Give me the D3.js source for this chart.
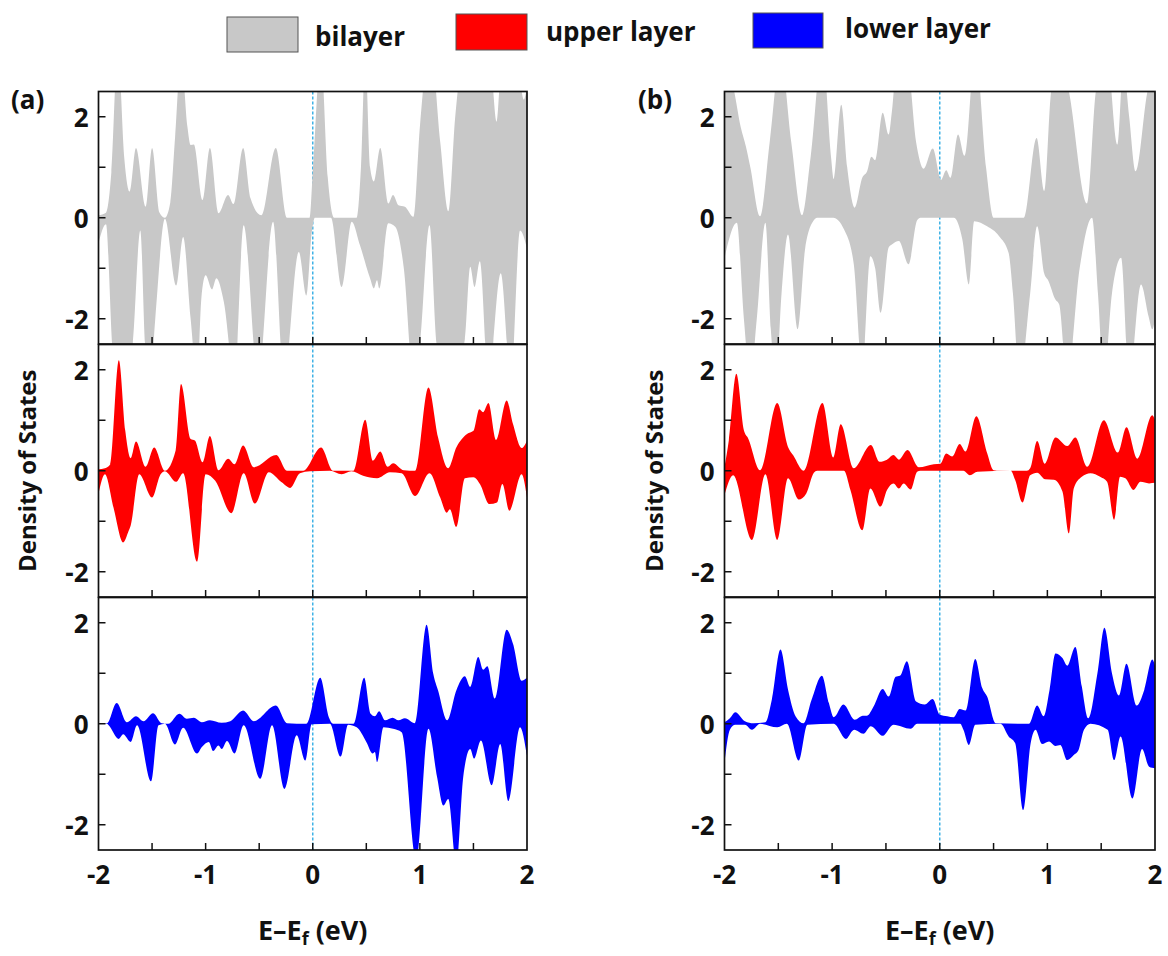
<!DOCTYPE html>
<html>
<head>
<meta charset="utf-8">
<script src="https://cdn.jsdelivr.net/npm/d3@7"></script>
<style>
  html, body { margin: 0; padding: 0; background: #fff; }
  svg { display: block; font-family: "Open Sans", Lato, sans-serif; font-weight: bold; }
</style>
</head>
<body>
<svg id="chart" width="1168" height="956"></svg>
<script>
// Spin-resolved DOS (spin up >= 0, spin down <= 0), energy in eV relative to E_f
const energyTicks = [-2, -1, 0, 1, 2];
const dosTicks = [-2, 0, 2];
const seriesNames = ["bilayer", "upper layer", "lower layer"];
const seriesColors = ["#c8c8c8", "#ff0000", "#0000ff"];
const panelLabels = ["(a)", "(b)"];

// ---- column (a) ----
const bilayerUpA = [[-2.0,0.05],[-1.93,0.1],[-1.88,0.9],[-1.82,3.4],[-1.76,1.2],[-1.71,0.52],[-1.65,1.38],[-1.56,0.22],[-1.50,1.38],[-1.43,0.1],[-1.38,0.0],[-1.33,0.3],[-1.285,1.6],[-1.23,3.2],[-1.17,1.8],[-1.14,1.44],[-1.11,1.45],[-1.03,0.35],[-0.96,1.38],[-0.88,0.09],[-0.79,0.45],[-0.74,0.27],[-0.65,1.38],[-0.58,0.38],[-0.48,0.05],[-0.345,1.38],[-0.24,0.0],[-0.03,0.0],[0.0,0.9],[0.075,3.2],[0.14,0.8],[0.2,0.0],[0.41,0.0],[0.45,1.0],[0.49,3.2],[0.535,1.0],[0.57,0.72],[0.63,1.38],[0.705,0.28],[0.75,0.45],[0.80,0.25],[0.86,0.22],[0.94,0.02],[1.0,1.8],[1.095,3.5],[1.19,1.5],[1.265,0.13],[1.33,2.0],[1.39,3.0],[1.55,3.2],[1.66,3.0],[1.716,1.9],[1.76,3.0],[1.9,3.2],[1.97,2.34],[2.0,2.6]];
const bilayerDnA = [[-2.0,-0.5],[-1.93,-0.13],[-1.87,-2.6],[-1.8,-3.5],[-1.72,-3.0],[-1.68,-2.5],[-1.61,-0.25],[-1.565,-2.5],[-1.52,-3.3],[-1.47,-2.0],[-1.38,-0.02],[-1.275,-1.34],[-1.21,-0.38],[-1.14,-2.0],[-1.08,-3.2],[-1.04,-1.6],[-1.0,-1.14],[-0.94,-1.42],[-0.90,-1.2],[-0.83,-1.67],[-0.73,-3.2],[-0.645,-0.15],[-0.51,-3.2],[-0.37,-0.08],[-0.27,-3.2],[-0.13,-0.68],[-0.06,-1.54],[-0.01,-0.3],[0.02,0.0],[0.17,0.0],[0.27,-1.37],[0.364,-0.08],[0.44,-0.54],[0.535,-1.2],[0.57,-1.4],[0.6,-1.24],[0.62,-1.4],[0.705,-0.11],[0.77,-0.18],[0.85,-1.0],[0.94,-3.2],[1.0,-2.5],[1.09,-0.15],[1.157,-2.5],[1.3,-3.3],[1.42,-2.4],[1.47,-0.97],[1.51,-1.37],[1.56,-0.86],[1.64,-3.2],[1.755,-1.1],[1.85,-3.2],[1.935,-0.25],[2.0,-0.6]];
const upperUpA = [[-2.0,0.03],[-1.94,0.05],[-1.89,0.13],[-1.81,2.19],[-1.75,0.79],[-1.70,0.25],[-1.65,0.58],[-1.56,0.08],[-1.48,0.46],[-1.38,0.0],[-1.28,0.4],[-1.23,1.72],[-1.14,0.63],[-1.10,0.6],[-1.03,0.17],[-0.96,0.69],[-0.88,0.01],[-0.79,0.24],[-0.73,0.13],[-0.65,0.5],[-0.55,0.07],[-0.34,0.31],[-0.24,0.0],[-0.09,0.0],[0.078,0.46],[0.19,0.0],[0.38,0.0],[0.49,1.01],[0.56,0.2],[0.63,0.38],[0.70,0.08],[0.75,0.15],[0.85,0.01],[0.955,0.0],[1.08,1.65],[1.17,0.66],[1.265,0.05],[1.34,0.46],[1.44,0.73],[1.50,0.79],[1.555,1.22],[1.59,1.16],[1.64,1.34],[1.71,0.61],[1.81,1.39],[1.87,0.92],[1.95,0.45],[2.0,0.59]];
const upperDnA = [[-2.0,-0.46],[-1.94,-0.07],[-1.86,-0.73],[-1.77,-1.42],[-1.72,-1.2],[-1.70,-1.09],[-1.62,-0.07],[-1.50,-0.53],[-1.42,-0.07],[-1.38,-0.01],[-1.275,-0.22],[-1.21,-0.05],[-1.08,-1.8],[-1.0,-0.07],[-0.91,-0.2],[-0.76,-0.84],[-0.645,-0.05],[-0.54,-0.65],[-0.41,-0.03],[-0.29,-0.23],[-0.21,-0.34],[-0.12,-0.05],[-0.025,-0.01],[0.16,0.0],[0.27,-0.07],[0.36,-0.01],[0.47,-0.1],[0.6,-0.15],[0.72,-0.03],[0.83,-0.05],[0.955,-0.5],[1.09,-0.05],[1.19,-0.53],[1.25,-0.83],[1.28,-0.76],[1.34,-1.11],[1.42,-0.15],[1.50,-0.13],[1.56,-0.26],[1.65,-0.66],[1.72,-0.63],[1.77,-0.26],[1.835,-0.79],[1.95,-0.07],[2.0,-0.53]];
const lowerUpA = [[-2.0,0.0],[-1.92,0.01],[-1.83,0.41],[-1.735,0.03],[-1.65,0.15],[-1.58,0.05],[-1.49,0.21],[-1.41,0.01],[-1.35,0.0],[-1.245,0.2],[-1.175,0.1],[-1.11,0.12],[-1.035,0.03],[-0.96,0.07],[-0.85,0.02],[-0.77,0.05],[-0.65,0.26],[-0.55,0.05],[-0.345,0.36],[-0.24,0.01],[-0.06,0.0],[0.07,0.91],[0.15,0.13],[0.19,0.0],[0.38,0.0],[0.48,0.91],[0.54,0.2],[0.58,0.15],[0.62,0.25],[0.675,0.07],[0.745,0.12],[0.8,0.07],[0.86,0.11],[0.955,0.01],[1.063,1.96],[1.125,0.99],[1.17,0.66],[1.255,0.07],[1.34,0.66],[1.42,0.94],[1.47,0.73],[1.545,1.32],[1.59,1.07],[1.63,1.14],[1.70,0.5],[1.81,1.86],[1.87,1.58],[1.95,0.85],[2.0,0.91]];
const lowerDnA = [[-2.0,0.0],[-1.92,0.0],[-1.905,-0.03],[-1.81,-0.3],[-1.77,-0.21],[-1.70,-0.36],[-1.64,-0.03],[-1.51,-1.14],[-1.44,-0.03],[-1.38,0.0],[-1.285,-0.41],[-1.21,-0.08],[-1.08,-0.59],[-1.035,-0.46],[-0.97,-0.36],[-0.93,-0.54],[-0.88,-0.43],[-0.85,-0.5],[-0.80,-0.34],[-0.73,-0.59],[-0.645,-0.03],[-0.49,-1.09],[-0.38,-0.03],[-0.265,-1.29],[-0.15,-0.23],[-0.07,-0.73],[-0.01,-0.01],[0.16,0.0],[0.26,-0.65],[0.33,-0.02],[0.41,-0.07],[0.50,-0.36],[0.56,-0.59],[0.58,-0.56],[0.60,-0.76],[0.66,-0.07],[0.75,-0.1],[0.83,-0.17],[0.965,-2.7],[1.08,-0.1],[1.16,-1.05],[1.22,-1.62],[1.265,-1.49],[1.34,-2.8],[1.405,-1.05],[1.47,-0.5],[1.505,-0.69],[1.57,-0.33],[1.67,-1.22],[1.75,-0.4],[1.825,-1.53],[1.935,-0.07],[2.0,-0.63]];

// ---- column (b) ----
const bilayerUpB = [[-2.0,3.0],[-1.92,2.6],[-1.85,1.8],[-1.80,1.4],[-1.76,1.0],[-1.67,0.03],[-1.58,1.5],[-1.48,3.2],[-1.38,1.5],[-1.28,0.05],[-1.2,1.2],[-1.09,3.3],[-1.01,1.2],[-0.985,0.76],[-0.915,2.24],[-0.86,1.0],[-0.79,0.2],[-0.72,0.79],[-0.675,0.92],[-0.635,1.21],[-0.60,1.14],[-0.53,2.08],[-0.475,1.65],[-0.445,2.1],[-0.40,3.0],[-0.30,3.0],[-0.22,1.5],[-0.15,0.97],[-0.065,1.37],[0.012,0.75],[0.06,0.94],[0.10,0.79],[0.17,1.65],[0.23,1.23],[0.33,3.3],[0.43,1.0],[0.50,0.0],[0.78,0.0],[0.9,1.58],[0.97,0.53],[1.03,2.4],[1.11,3.3],[1.2,2.5],[1.37,0.28],[1.45,2.5],[1.55,3.3],[1.65,1.45],[1.705,3.0],[1.76,2.0],[1.82,0.92],[1.93,2.5],[2.0,3.0]];
const bilayerDnB = [[-2.0,-0.8],[-1.885,-0.1],[-1.82,-2.0],[-1.76,-3.2],[-1.70,-2.0],[-1.62,-0.1],[-1.57,-2.2],[-1.52,-3.2],[-1.47,-1.5],[-1.41,-0.33],[-1.32,-2.21],[-1.25,-0.6],[-1.17,-0.05],[-1.14,0.0],[-0.99,0.0],[-0.89,-0.23],[-0.80,-0.9],[-0.72,-3.0],[-0.645,-0.76],[-0.60,-1.0],[-0.55,-1.88],[-0.475,-0.59],[-0.445,-0.53],[-0.38,-0.46],[-0.29,-0.92],[-0.21,-0.05],[-0.18,0.0],[0.13,0.0],[0.21,-0.43],[0.27,-1.32],[0.32,-0.07],[0.44,-0.17],[0.55,-0.36],[0.64,-0.7],[0.68,-1.5],[0.74,-3.2],[0.84,-1.5],[0.905,-0.17],[0.97,-1.1],[1.01,-1.25],[1.075,-1.62],[1.11,-1.72],[1.185,-3.2],[1.3,-1.0],[1.415,0.0],[1.47,-1.5],[1.525,-3.2],[1.6,-1.5],[1.685,-0.79],[1.76,-3.2],[1.87,-1.32],[1.94,-1.95],[1.975,-2.21],[2.0,-2.0]];
const upperUpB = [[-2.0,0.08],[-1.96,0.6],[-1.89,1.92],[-1.82,0.8],[-1.78,0.64],[-1.67,0.01],[-1.51,1.34],[-1.41,0.47],[-1.36,0.3],[-1.265,0.0],[-1.09,1.34],[-0.99,0.26],[-0.92,0.92],[-0.80,0.05],[-0.64,0.51],[-0.56,0.18],[-0.49,0.22],[-0.43,0.31],[-0.38,0.22],[-0.30,0.41],[-0.195,0.07],[-0.055,0.13],[0.006,0.14],[0.06,0.34],[0.115,0.28],[0.185,0.53],[0.24,0.38],[0.34,1.08],[0.44,0.35],[0.50,0.01],[0.56,0.0],[0.81,0.0],[0.84,0.05],[0.905,0.59],[0.975,0.14],[1.075,0.66],[1.185,0.49],[1.26,0.66],[1.37,0.08],[1.525,1.0],[1.655,0.36],[1.735,0.86],[1.835,0.24],[1.975,1.1],[2.0,1.0]];
const upperDnB = [[-2.0,-0.48],[-1.92,-0.09],[-1.745,-1.37],[-1.62,-0.07],[-1.51,-1.37],[-1.41,-0.15],[-1.31,-0.57],[-1.24,-0.45],[-1.17,-0.04],[-1.14,0.0],[-0.89,0.0],[-0.83,-0.38],[-0.72,-1.18],[-0.645,-0.35],[-0.55,-0.71],[-0.49,-0.38],[-0.43,-0.25],[-0.38,-0.35],[-0.335,-0.25],[-0.27,-0.37],[-0.21,-0.02],[-0.18,0.0],[0.22,0.0],[0.28,-0.09],[0.35,-0.02],[0.66,0.0],[0.70,-0.18],[0.77,-0.63],[0.84,-0.09],[0.905,-0.04],[0.98,-0.17],[1.06,-0.18],[1.14,-0.41],[1.2,-1.24],[1.245,-0.35],[1.32,-0.12],[1.40,-0.05],[1.49,-0.12],[1.555,-0.22],[1.62,-0.97],[1.675,-0.12],[1.725,-0.15],[1.80,-0.38],[1.865,-0.22],[1.945,-0.25],[2.0,-0.24]];
const lowerUpB = [[-2.0,0.03],[-1.95,0.11],[-1.90,0.23],[-1.81,0.05],[-1.73,0.01],[-1.62,0.03],[-1.56,0.48],[-1.48,1.47],[-1.41,0.68],[-1.34,0.15],[-1.265,0.01],[-1.19,0.48],[-1.095,0.95],[-1.03,0.41],[-0.985,0.13],[-0.895,0.38],[-0.79,0.08],[-0.715,0.16],[-0.675,0.16],[-0.615,0.34],[-0.53,0.69],[-0.475,0.54],[-0.41,0.93],[-0.37,0.95],[-0.305,1.24],[-0.22,0.44],[-0.14,0.38],[-0.065,0.49],[0.0,0.18],[0.07,0.15],[0.13,0.13],[0.185,0.29],[0.24,0.26],[0.33,1.28],[0.395,0.71],[0.44,0.54],[0.52,0.01],[0.83,0.0],[0.905,0.36],[0.965,0.15],[1.02,0.67],[1.075,1.39],[1.14,1.3],[1.185,1.15],[1.26,1.52],[1.32,0.74],[1.38,0.11],[1.465,1.0],[1.53,1.9],[1.60,1.0],[1.665,0.56],[1.735,1.19],[1.83,0.36],[1.90,0.67],[1.975,1.27],[2.0,1.15]];
const lowerDnB = [[-2.0,-0.78],[-1.95,-0.12],[-1.90,-0.02],[-1.81,-0.02],[-1.745,-0.12],[-1.67,0.0],[-1.51,-0.07],[-1.42,0.0],[-1.31,-0.73],[-1.23,-0.02],[-0.985,0.0],[-0.87,-0.3],[-0.815,-0.15],[-0.795,-0.12],[-0.71,-0.2],[-0.64,-0.05],[-0.53,-0.24],[-0.43,-0.02],[-0.27,-0.1],[-0.21,0.0],[0.19,0.0],[0.22,-0.12],[0.27,-0.42],[0.33,-0.02],[0.565,0.0],[0.64,-0.25],[0.70,-0.38],[0.775,-1.71],[0.845,-0.38],[0.89,-0.12],[0.95,-0.4],[1.015,-0.35],[1.075,-0.44],[1.12,-0.42],[1.185,-0.72],[1.245,-0.62],[1.29,-0.52],[1.34,-0.12],[1.40,0.0],[1.56,-0.12],[1.62,-0.72],[1.68,-0.25],[1.79,-1.48],[1.88,-0.5],[1.945,-0.85],[2.0,-0.88]];

const columns = [
  { label: panelLabels[0], left: 98.5, right: 527, series: [[bilayerUpA, bilayerDnA], [upperUpA, upperDnA], [lowerUpA, lowerDnA]] },
  { label: panelLabels[1], left: 724.5, right: 1155, series: [[bilayerUpB, bilayerDnB], [upperUpB, upperDnB], [lowerUpB, lowerDnB]] }
];
const rowTops = [91.5, 344.5, 597.5];
const rowHeight = 252.5;

const svg = d3.select("#chart");

// legend
const legendItems = [
  { box: [227, 17, 71, 35], tx: 315, ty: 46 },
  { box: [456, 14, 71, 36], tx: 546, ty: 41 },
  { box: [753, 13, 70, 35], tx: 845, ty: 38 }
];
legendItems.forEach((it, i) => {
  svg.append("rect")
    .attr("x", it.box[0]).attr("y", it.box[1])
    .attr("width", it.box[2]).attr("height", it.box[3])
    .attr("fill", seriesColors[i]).attr("stroke", "#555").attr("stroke-width", 1);
  svg.append("text").attr("x", it.tx).attr("y", it.ty)
    .attr("font-size", 26).attr("fill", "#111").text(seriesNames[i]);
});

let clipId = 0;
columns.forEach((col, ci) => {
  const x = d3.scaleLinear().domain([-2, 2]).range([col.left, col.right]);
  const g = svg.append("g").attr("fill", "#111");

  g.append("text").attr("x", ci === 0 ? 11 : 638).attr("y", 109)
    .attr("font-size", 26).text(col.label);

  col.series.forEach((pair, ri) => {
    const top = rowTops[ri];
    const y = d3.scaleLinear().domain([-2.5, 2.5]).range([top + rowHeight, top]);
    const id = "clip" + (clipId++);
    svg.append("clipPath").attr("id", id).append("rect")
      .attr("x", col.left).attr("y", top)
      .attr("width", col.right - col.left).attr("height", rowHeight);

    const pg = g.append("g");
    // Fermi level marker
    pg.append("line")
      .attr("x1", x(0)).attr("x2", x(0))
      .attr("y1", top).attr("y2", top + rowHeight)
      .attr("stroke", "#3fb2e6").attr("stroke-width", 1.5)
      .attr("stroke-dasharray", "3,2");

    const line = d3.line().x(d => x(d[0])).y(d => y(d[1])).curve(d3.curveMonotoneX);
    const upPath = line(pair[0]);
    const dnPath = line(pair[1].slice().reverse());
    pg.append("path")
      .attr("clip-path", `url(#${id})`)
      .attr("d", upPath + "L" + dnPath.slice(1) + "Z")
      .attr("fill", seriesColors[ri]).attr("stroke", "none");

    // frame
    pg.append("rect")
      .attr("x", col.left).attr("y", top)
      .attr("width", col.right - col.left).attr("height", rowHeight)
      .attr("fill", "none").attr("stroke", "#111").attr("stroke-width", 1.7);

    // y ticks (inward)
    d3.range(-2, 2.01, 1).forEach(v => {
      pg.append("line").attr("x1", col.left).attr("x2", col.left + 7)
        .attr("y1", y(v)).attr("y2", y(v)).attr("stroke", "#111").attr("stroke-width", 1.5);
    });
    dosTicks.forEach(v => {
      pg.append("text").attr("x", col.left - 10).attr("y", y(v))
        .attr("text-anchor", "end").attr("dominant-baseline", "central")
        .attr("font-size", 26).text(d3.format("d")(v).replace("\u2212", "-"));
    });

    // x ticks (inward from bottom)
    d3.range(-1.5, 1.51, 0.5).forEach(v => {
      pg.append("line").attr("x1", x(v)).attr("x2", x(v))
        .attr("y1", top + rowHeight).attr("y2", top + rowHeight - 7)
        .attr("stroke", "#111").attr("stroke-width", 1.5);
    });
  });

  const bottom = rowTops[2] + rowHeight;
  energyTicks.forEach(v => {
    g.append("text").attr("x", x(v)).attr("y", bottom + 34)
      .attr("text-anchor", "middle").attr("font-size", 26)
      .text(d3.format("d")(v).replace("\u2212", "-"));
  });

  const xt = g.append("text").attr("x", x(0)).attr("y", 940)
    .attr("text-anchor", "middle").attr("font-size", 27);
  xt.append("tspan").text("E\u2013E");
  xt.append("tspan").attr("font-size", 18).attr("dy", 5).text("f");
  xt.append("tspan").attr("dy", -5).text(" (eV)");

  const my = rowTops[1] + rowHeight / 2;
  const yx = ci === 0 ? 26 : 653;
  g.append("text").attr("transform", `translate(${yx},${my}) rotate(-90)`)
    .attr("text-anchor", "middle").attr("dominant-baseline", "central")
    .attr("font-size", 24).text("Density of States");
});
</script>
</body>
</html>
